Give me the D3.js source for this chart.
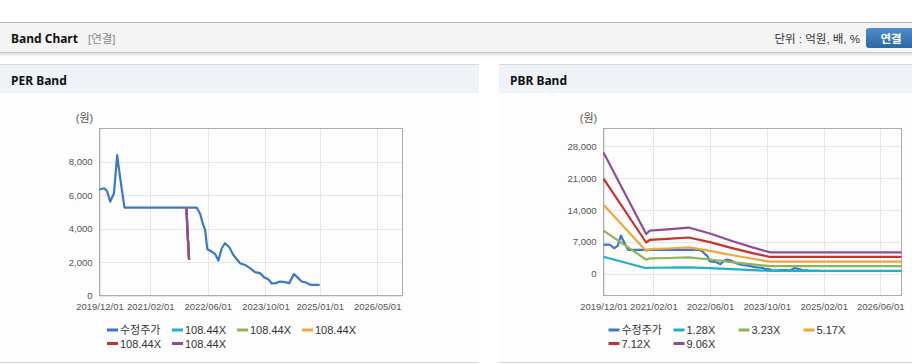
<!DOCTYPE html>
<html>
<head>
<meta charset="utf-8">
<script src="https://cdn.jsdelivr.net/npm/d3@7"></script>
<style>
  body { margin: 0; background: #fff; }
  text { font-family: "Liberation Sans", Arial, "Noto Sans CJK KR", sans-serif; }
  .title { font-family: "Noto Sans", "Noto Sans CJK KR", sans-serif; font-weight: bold; }
</style>
</head>
<body>
<svg id="chart" width="912" height="364"></svg>
<script>
// Adjusted price (수정주가), shared by both charts.
var priceDates = ["2019-12-01","2020-01-10","2020-02-01","2020-03-01","2020-04-01","2020-04-28","2020-05-09",
  "2020-06-07","2020-06-29","2022-03-01","2022-03-29","2022-04-20","2022-05-10","2022-05-29","2022-07-05",
  "2022-08-02","2022-08-30","2022-09-28","2022-10-25","2022-12-01","2023-01-03","2023-02-01","2023-03-01",
  "2023-04-12","2023-05-24","2023-07-05","2023-08-16","2023-09-19","2023-10-25","2023-11-23","2023-12-29",
  "2024-02-01","2024-03-14","2024-04-19","2024-05-29","2024-06-26","2024-08-02","2024-09-07","2024-10-05",
  "2024-10-17","2025-01-01"];
var priceValues = [6350, 6420, 6270, 5620, 6120, 8400, 7800,
  6320, 5260, 5260, 4900, 4330, 3930, 2770, 2630,
  2490, 2090, 2830, 3130, 2890, 2430, 2170, 1935,
  1830, 1640, 1400, 1340, 1100, 980, 720, 740,
  836, 800, 740, 1280, 1100, 836, 777, 680,
  640, 640];

// PER band lines (all five share the same short segment)
var perBandLabels = ["108.44X", "108.44X", "108.44X", "108.44X", "108.44X"];
var perBandDates = ["2021-12-05", "2021-12-10", "2021-12-18", "2021-12-26"];
var perBandValues = [5260, 4150, 3150, 2150];

// PBR band lines
var pbrBandLabels = ["1.28X", "3.23X", "5.17X", "7.12X", "9.06X"];
var pbrBandDates = ["2019-12-01","2020-12-01","2021-01-01","2021-06-01","2021-12-01",
  "2022-06-01","2022-12-01","2023-06-01","2023-11-01","2026-12-01"];
var pbr128 = [3757, 1235, 1338, 1376, 1434, 1248, 1024, 819, 666, 666];
var pbr323 = [9480, 3117, 3375, 3472, 3618, 3149, 2584, 2067, 1680, 1680];
var pbr517 = [15174, 4989, 5403, 5558, 5790, 5041, 4136, 3309, 2688, 2688];
var pbr712 = [20897, 6871, 7440, 7654, 7974, 6942, 5696, 4557, 3702, 3702];
var pbr906 = [26591, 8743, 9468, 9740, 10147, 8834, 7248, 5798, 4711, 4711];

var perTicks = [0, 2000, 4000, 6000, 8000];
var pbrTicks = [0, 7000, 14000, 21000, 28000];
var perDateTicks = ["2019-12-01","2021-02-01","2022-06-01","2023-10-01","2025-01-01","2026-05-01"];
var pbrDateTicks = ["2019-12-01","2021-02-01","2022-06-01","2023-10-01","2025-02-01","2026-06-01"];

var colors = ["#3a78c9", "#1fb1c6", "#8cb653", "#eea83a", "#c9312d", "#8e4c9c"];

var parse = d3.timeParse("%Y-%m-%d");
var fmtDate = d3.timeFormat("%Y/%m/%d");
var svg = d3.select("#chart");

function zip(dates, values) {
  return dates.map(function(d, i) { return { date: parse(d), value: values[i] }; });
}

// ---- page header ----
var defs = svg.append("defs");
var sh = defs.append("linearGradient").attr("id", "shadow").attr("x1", 0).attr("x2", 0).attr("y1", 0).attr("y2", 1);
sh.append("stop").attr("offset", "0%").attr("stop-color", "#000").attr("stop-opacity", 0.13);
sh.append("stop").attr("offset", "100%").attr("stop-color", "#000").attr("stop-opacity", 0);
var btn = defs.append("linearGradient").attr("id", "btn").attr("x1", 0).attr("x2", 0).attr("y1", 0).attr("y2", 1);
btn.append("stop").attr("offset", "0%").attr("stop-color", "#4f8ccb");
btn.append("stop").attr("offset", "100%").attr("stop-color", "#2c67a6");

svg.append("rect").attr("x", 0).attr("y", 22).attr("width", 912).attr("height", 31).attr("fill", "#f4f4f4");
svg.append("line").attr("x1", 0).attr("x2", 912).attr("y1", 22.5).attr("y2", 22.5).attr("stroke", "#b4b4b4");
svg.append("line").attr("x1", 0).attr("x2", 912).attr("y1", 52.5).attr("y2", 52.5).attr("stroke", "#c6c6c6");
svg.append("rect").attr("x", 0).attr("y", 53).attr("width", 912).attr("height", 4).attr("fill", "url(#shadow)");

svg.append("text").attr("class", "title").attr("x", 11).attr("y", 43)
    .style("font-size", "12px").attr("fill", "#111").text("Band Chart");
svg.append("text").attr("x", 88).attr("y", 43)
    .style("font-size", "11.5px").attr("fill", "#8a8a8a").text("[연결]");
svg.append("text").attr("x", 860).attr("y", 43).attr("text-anchor", "end")
    .style("font-size", "11.5px").attr("fill", "#333").text("단위 : 억원, 배, %");
svg.append("rect").attr("x", 866).attr("y", 28).attr("width", 52).attr("height", 20).attr("rx", 3)
    .attr("fill", "url(#btn)");
svg.append("text").attr("x", 891).attr("y", 42.5).attr("text-anchor", "middle")
    .style("font-size", "11.5px").style("font-weight", "bold").attr("fill", "#fff").text("연결");

// ---- one band chart panel ----
function drawPanel(o) {
  var g = svg.append("g");
  g.append("rect").attr("x", o.x0).attr("y", 64).attr("width", o.x1 - o.x0).attr("height", 298).attr("fill", "#fdfdfd");
  g.append("rect").attr("x", o.x0).attr("y", 64).attr("width", o.x1 - o.x0).attr("height", 29).attr("fill", "#eff2f7");
  g.append("line").attr("x1", o.x0).attr("x2", o.x1).attr("y1", 64.5).attr("y2", 64.5).attr("stroke", "#d9d9d9");
  g.append("line").attr("x1", o.x0).attr("x2", o.x1).attr("y1", 362.5).attr("y2", 362.5).attr("stroke", "#d6d6d6");
  g.append("text").attr("class", "title").attr("x", o.x0 + 11).attr("y", 85)
      .style("font-size", "12px").attr("fill", "#111").text(o.title);

  var x = d3.scaleTime().domain([parse("2019-12-01"), parse("2026-12-01")]).range([o.left, o.right]);
  var y = d3.scaleLinear().domain(o.yDomain).range([o.bottom, o.top]);

  // gridlines
  g.append("g").selectAll("line").data(o.yTicks).join("line")
      .attr("x1", o.left).attr("x2", o.right)
      .attr("y1", function(d) { return Math.round(y(d)) + 0.5; })
      .attr("y2", function(d) { return Math.round(y(d)) + 0.5; })
      .attr("stroke", "#e6e6e6");
  var dt = o.xTicks.map(parse);
  g.append("g").selectAll("line").data(dt).join("line")
      .attr("y1", o.top).attr("y2", o.bottom)
      .attr("x1", function(d) { return Math.round(x(d)) + 0.5; })
      .attr("x2", function(d) { return Math.round(x(d)) + 0.5; })
      .attr("stroke", "#e6e6e6");

  g.append("rect").attr("x", o.left).attr("y", o.top).attr("width", o.right - o.left)
      .attr("height", o.bottom - o.top).attr("fill", "none").attr("stroke", "#ababab");

  var ya = g.append("g").attr("transform", "translate(" + o.left + ",0)")
      .call(d3.axisLeft(y).tickValues(o.yTicks).tickSize(0).tickPadding(7).tickFormat(d3.format(",")));
  var xa = g.append("g").attr("transform", "translate(0," + o.bottom + ")")
      .call(d3.axisBottom(x).tickValues(dt).tickSize(0).tickPadding(8).tickFormat(fmtDate));
  [ya, xa].forEach(function(a) {
    a.select(".domain").remove();
    a.selectAll("text").attr("fill", "#555").style("font-size", "9.5px")
      .style("font-family", "'Liberation Sans', Arial, sans-serif");
  });

  g.append("text").attr("x", o.left - 15).attr("y", 122).attr("text-anchor", "middle")
      .style("font-size", "11px").attr("fill", "#555").text("(원)");

  var line = d3.line().x(function(d) { return x(d.date); }).y(function(d) { return y(d.value); });
  g.append("g").selectAll("path").data(o.series).join("path")
      .attr("d", function(s) { return line(s.points); })
      .attr("fill", "none").attr("stroke-width", 2.2).attr("stroke-linejoin", "round")
      .attr("stroke", function(s, i) { return colors[i]; });

  // legend: 4 per row
  var lx = (o.left + o.right) / 2 - 144;
  var item = g.append("g").selectAll("g").data(o.series).join("g")
      .attr("transform", function(s, i) {
        return "translate(" + (lx + (i % 4) * 65) + "," + (330 + Math.floor(i / 4) * 13.5) + ")";
      });
  item.append("line").attr("x1", 0).attr("x2", 11).attr("y1", 0).attr("y2", 0)
      .attr("stroke-width", 3).attr("stroke", function(s, i) { return colors[i]; });
  item.append("text").attr("x", 13).attr("y", 4).style("font-size", "11px").attr("fill", "#333")
      .text(function(s) { return s.name; });
}

var perSeries = [{ name: "수정주가", points: zip(priceDates, priceValues) }];
perBandLabels.forEach(function(l) { perSeries.push({ name: l, points: zip(perBandDates, perBandValues) }); });

var pbrVals = [pbr128, pbr323, pbr517, pbr712, pbr906];
var pbrSeries = [{ name: "수정주가", points: zip(priceDates, priceValues) }];
pbrBandLabels.forEach(function(l, i) { pbrSeries.push({ name: l, points: zip(pbrBandDates, pbrVals[i]) }); });

drawPanel({ title: "PER Band", x0: 0, x1: 479, left: 99.5, right: 402.5, top: 128.5, bottom: 295.5,
  yDomain: [0, 10000], yTicks: perTicks, xTicks: perDateTicks, series: perSeries });
drawPanel({ title: "PBR Band", x0: 499, x1: 912, left: 603.5, right: 901.5, top: 128.5, bottom: 295.5,
  yDomain: [-4750, 31870], yTicks: pbrTicks, xTicks: pbrDateTicks, series: pbrSeries });
</script>
</body>
</html>
